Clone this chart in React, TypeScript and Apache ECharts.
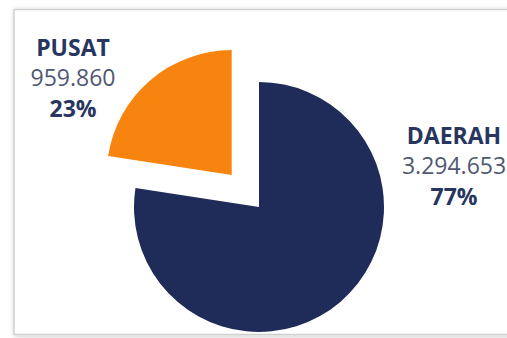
import React, { useEffect, useRef } from "react";
import * as echarts from "echarts";

const categories = ["DAERAH", "PUSAT"];
const values = [3294653, 959860];
const colors = ["#1f2b58", "#f6840f"];
const selectedCategory = "PUSAT";

const NAVY_TEXT = "#28365f";
const GRAY_TEXT = "#4f5873";

function formatThousands(n: number): string {
  return String(n).replace(/\B(?=(\d{3})+(?!\d))/g, ".");
}

export default function App() {
  const ref = useRef<HTMLDivElement>(null);

  useEffect(() => {
    if (!ref.current) return;
    const chart = echarts.init(ref.current, null, { renderer: "svg" });
    const labelPos: Record<string, { x: number; y: number }> = {
      DAERAH: { x: 454, y: 165 },
      PUSAT: { x: 73, y: 77 },
    };
    const total = values.reduce((a, b) => a + b, 0);
    const rich = {
      name: { fontSize: 23, fontWeight: "bold", fill: NAVY_TEXT, lineHeight: 30, fontFamily: "Open Sans", align: "center" },
      val: { fontSize: 23, fill: GRAY_TEXT, lineHeight: 31, fontFamily: "Open Sans", align: "center" },
      pct: { fontSize: 23, fontWeight: "bold", fill: NAVY_TEXT, lineHeight: 30, fontFamily: "Open Sans", align: "center" },
    };
    const labelGraphics = categories.map((c, i) => ({
      type: "text",
      silent: true,
      x: labelPos[c].x,
      y: labelPos[c].y,
      style: {
        text: `{name|${c}}\n{val|${formatThousands(values[i])}}\n{pct|${Math.round((values[i] / total) * 100)}%}`,
        rich,
        align: "center",
        verticalAlign: "middle",
        font: "23px 'Open Sans'",
      },
    }));
    chart.setOption({
      animation: false,
      backgroundColor: "#ffffff",
      graphic: [
        {
          type: "rect",
          z: -10,
          silent: true,
          shape: { x: 14, y: 9.5, width: 520, height: 325 },
          style: {
            fill: "#ffffff",
            stroke: "#cfcfcf",
            lineWidth: 1.5,
            shadowBlur: 5,
            shadowColor: "rgba(0,0,0,0.22)",
            shadowOffsetX: 1,
            shadowOffsetY: 1,
          },
        },
        ...labelGraphics,
      ],
      series: [
        {
          type: "pie",
          center: [259, 207],
          radius: 125,
          startAngle: 90,
          clockwise: true,
          selectedMode: "single",
          selectedOffset: 42,
          emphasis: { disabled: true },
          labelLine: { show: false },
          label: { show: false },
          data: categories.map((c, i) => ({
            name: c,
            value: values[i],
            selected: c === selectedCategory,
            itemStyle: { color: colors[i], borderWidth: 0 },
            select: { itemStyle: { color: colors[i], borderWidth: 0 } },
          })),
        },
      ],
    });
    return () => chart.dispose();
  }, []);

  return (
    <div
      ref={ref}
      style={{ position: "fixed", left: 0, top: 0, width: 507, height: 338 }}
    />
  );
}
